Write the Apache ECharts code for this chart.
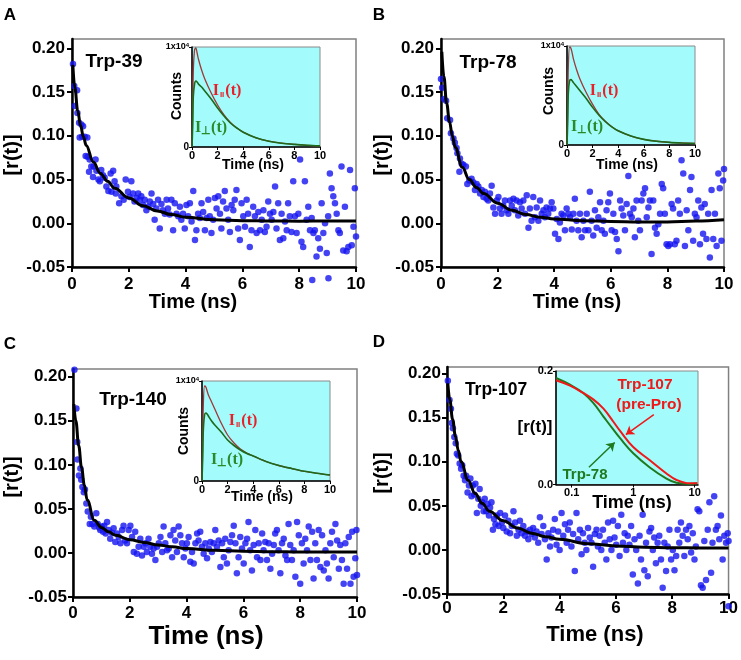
<!DOCTYPE html>
<html><head><meta charset="utf-8">
<script src="https://cdn.jsdelivr.net/npm/echarts@6/dist/echarts.min.js"></script>
<style>html,body{margin:0;padding:0;background:#fff}#c{width:741px;height:660px}</style>
</head><body><div id="c"></div><script>
// ---------- DATA ----------
const mainXTicks = [0, 2, 4, 6, 8, 10];
const mainYTicks = [-0.05, 0, 0.05, 0.10, 0.15, 0.20];
const panelNames = ['Trp-39', 'Trp-78', 'Trp-140', 'Trp-107'];

const scatterA = [[0.035,0.182],[0.08,0.157],[0.10,0.134],[0.18,0.152],[0.19,0.126],[0.25,0.115],[0.27,0.098],[0.33,0.113],[0.36,0.099],[0.39,0.111],[0.45,0.099],[0.48,0.077],[0.54,0.098],[0.55,0.076],[0.60,0.059],[0.62,0.073],[0.68,0.065],[0.74,0.053],[0.76,0.065],[0.83,0.073],[0.86,0.060],[0.93,0.050],[0.98,0.048],[1.03,0.061],[1.09,0.055],[1.15,0.052],[1.21,0.042],[1.28,0.037],[1.36,0.057],[1.39,0.036],[1.45,0.060],[1.50,0.048],[1.54,0.034],[1.56,0.042],[1.66,0.023],[1.74,0.031],[1.82,0.027],[1.89,0.050],[1.97,0.036],[2.03,0.030],[2.09,0.048],[2.15,0.034],[2.20,0.025],[2.27,0.029],[2.33,0.034],[2.39,0.027],[2.44,0.031],[2.50,0.021],[2.56,0.027],[2.62,0.015],[2.68,0.019],[2.74,0.025],[2.80,0.034],[2.86,0.022],[2.91,0.004],[2.97,0.017],[3.03,0.027],[3.09,-0.006],[3.15,0.022],[3.20,0.015],[3.27,0.011],[3.33,0.027],[3.38,0.017],[3.44,0.010],[3.50,0.027],[3.56,-0.008],[3.62,0.023],[3.68,0.011],[3.74,0.008],[3.80,0.019],[3.85,0.004],[3.91,0.011],[3.97,-0.006],[4.03,0.021],[4.09,0.008],[4.15,0.023],[4.21,0.002],[4.27,0.037],[4.33,-0.019],[4.38,-0.008],[4.44,0.011],[4.50,0.006],[4.56,0.023],[4.62,0.013],[4.68,-0.008],[4.74,0.006],[4.80,0.027],[4.85,0.008],[4.91,-0.011],[4.97,0.004],[5.03,0.029],[5.09,0.017],[5.15,0.031],[5.21,0.011],[5.26,-0.006],[5.32,0.025],[5.38,0.037],[5.44,0.017],[5.50,0.004],[5.56,-0.010],[5.62,0.021],[5.68,0.015],[5.73,0.027],[5.79,0.038],[5.85,-0.006],[5.91,-0.019],[5.97,0.023],[6.03,0.008],[6.09,-0.004],[6.15,0.027],[6.20,0.011],[6.26,-0.027],[6.32,-0.008],[6.38,0.019],[6.44,0.008],[6.50,-0.011],[6.56,0.013],[6.62,-0.008],[6.68,0.004],[6.74,0.015],[6.79,-0.010],[6.85,-0.004],[6.91,0.025],[6.97,0.011],[7.03,0.004],[7.09,0.013],[7.15,0.042],[7.20,-0.006],[7.26,0.023],[7.32,-0.019],[7.38,0.011],[7.44,-0.017],[7.50,0.002],[7.56,-0.008],[7.61,0.023],[7.67,0.008],[7.73,-0.010],[7.79,0.048],[7.85,0.008],[7.91,-0.011],[7.97,0.011],[8.03,0.073],[8.08,-0.021],[8.14,-0.027],[8.20,0.048],[8.26,0.004],[8.32,0.019],[8.38,-0.008],[8.44,0.006],[8.46,-0.065],[8.50,-0.011],[8.55,-0.008],[8.61,-0.038],[8.67,-0.017],[8.73,-0.029],[8.79,0.023],[8.85,-0.011],[8.91,0.000],[8.97,-0.034],[9.02,0.008],[9.03,-0.063],[9.08,0.057],[9.14,0.040],[9.20,0.031],[9.26,0.023],[9.32,0.011],[9.38,-0.008],[9.43,-0.011],[9.49,0.065],[9.55,-0.031],[9.61,0.019],[9.67,-0.032],[9.73,-0.027],[9.79,0.061],[9.85,-0.025],[9.91,-0.004],[9.96,0.040],[10.0,-0.015]];

const scatterB = [[0.0,0.165],[0.04,0.155],[0.11,0.142],[0.18,0.140],[0.22,0.120],[0.32,0.118],[0.35,0.103],[0.44,0.097],[0.49,0.092],[0.55,0.086],[0.58,0.080],[0.65,0.059],[0.67,0.074],[0.73,0.068],[0.79,0.067],[0.88,0.065],[0.93,0.045],[1.00,0.049],[1.08,0.051],[1.14,0.047],[1.20,0.038],[1.26,0.045],[1.32,0.042],[1.38,0.034],[1.44,0.038],[1.50,0.030],[1.55,0.036],[1.61,0.028],[1.67,0.026],[1.73,0.034],[1.79,0.043],[1.85,0.018],[1.91,0.011],[1.97,0.026],[2.03,0.030],[2.08,0.017],[2.14,0.011],[2.20,0.020],[2.26,0.026],[2.32,0.015],[2.38,0.011],[2.44,0.026],[2.50,0.020],[2.56,0.028],[2.61,0.015],[2.67,0.026],[2.73,0.009],[2.79,0.024],[2.85,0.017],[2.91,0.026],[2.97,0.011],[3.03,0.032],[3.09,-0.005],[3.14,0.017],[3.20,0.003],[3.26,0.030],[3.32,0.007],[3.38,0.018],[3.44,0.003],[3.50,0.026],[3.56,0.011],[3.62,0.015],[3.67,0.007],[3.73,0.018],[3.79,0.011],[3.85,0.017],[3.91,0.024],[3.97,0.017],[4.03,-0.012],[4.09,0.005],[4.15,-0.018],[4.20,0.001],[4.26,0.011],[4.32,0.009],[4.38,-0.008],[4.44,0.017],[4.50,0.011],[4.56,0.007],[4.62,-0.007],[4.68,0.011],[4.73,0.028],[4.79,0.003],[4.85,-0.008],[4.91,0.011],[4.97,-0.016],[5.03,0.003],[5.09,-0.008],[5.15,0.011],[5.21,-0.008],[5.26,0.036],[5.32,0.003],[5.38,-0.014],[5.44,0.015],[5.50,-0.005],[5.56,0.007],[5.62,0.024],[5.68,-0.008],[5.74,0.003],[5.79,-0.012],[5.85,0.015],[5.91,0.024],[5.97,0.034],[6.03,-0.008],[6.09,0.011],[6.15,-0.010],[6.21,-0.018],[6.27,-0.032],[6.33,0.026],[6.38,0.017],[6.44,0.009],[6.50,-0.008],[6.56,0.022],[6.62,0.054],[6.68,0.011],[6.74,0.007],[6.80,0.017],[6.85,-0.016],[6.91,0.026],[6.97,0.003],[7.03,-0.008],[7.09,0.026],[7.15,0.034],[7.21,0.040],[7.27,0.007],[7.33,0.018],[7.38,0.026],[7.44,-0.035],[7.50,0.026],[7.56,-0.005],[7.62,-0.012],[7.68,-0.001],[7.74,0.011],[7.80,0.045],[7.85,0.040],[7.91,0.011],[7.97,-0.024],[8.03,-0.026],[8.09,-0.024],[8.15,0.022],[8.20,0.017],[8.26,-0.024],[8.32,-0.020],[8.38,0.026],[8.44,0.011],[8.50,0.072],[8.56,0.057],[8.62,-0.026],[8.68,0.015],[8.74,-0.008],[8.80,0.038],[8.85,0.053],[8.91,-0.020],[8.97,0.011],[9.03,0.007],[9.09,0.026],[9.15,-0.024],[9.20,0.018],[9.26,-0.012],[9.32,0.022],[9.38,-0.018],[9.44,0.011],[9.50,-0.039],[9.56,0.038],[9.62,-0.018],[9.68,0.011],[9.74,-0.026],[9.80,0.057],[9.85,0.040],[9.91,-0.020],[9.97,0.049],[10.0,0.062]];

const scatterC = [[0.05,0.208],[0.12,0.164],[0.15,0.126],[0.16,0.106],[0.21,0.088],[0.26,0.096],[0.29,0.083],[0.33,0.075],[0.38,0.069],[0.42,0.072],[0.47,0.056],[0.52,0.047],[0.59,0.033],[0.63,0.041],[0.68,0.033],[0.75,0.030],[0.82,0.045],[0.87,0.033],[0.92,0.029],[0.96,0.026],[1.01,0.030],[1.06,0.024],[1.10,0.031],[1.15,0.022],[1.20,0.035],[1.26,0.026],[1.31,0.016],[1.37,0.023],[1.43,0.028],[1.49,0.0125],[1.55,0.022],[1.61,0.018],[1.67,0.011],[1.73,0.026],[1.78,0.031],[1.84,0.014],[1.90,0.011],[1.96,0.026],[2.02,0.031],[2.08,0.018],[2.14,0.001],[2.19,0.024],[2.25,-0.001],[2.31,0.007],[2.37,0.016],[2.43,-0.003],[2.49,0.007],[2.55,0.011],[2.60,0.001],[2.66,0.016],[2.72,0.007],[2.78,-0.001],[2.84,0.005],[2.90,-0.008],[2.96,0.007],[3.02,0.011],[3.08,0.018],[3.14,0.001],[3.19,0.030],[3.25,0.011],[3.31,0.003],[3.37,0.005],[3.43,0.020],[3.49,-0.005],[3.54,0.026],[3.60,0.014],[3.66,0.001],[3.72,0.030],[3.78,0.020],[3.84,0.011],[3.90,-0.005],[3.96,0.005],[4.01,0.011],[4.07,0.018],[4.13,-0.010],[4.19,0.001],[4.25,-0.012],[4.31,0.011],[4.37,0.022],[4.42,0.014],[4.48,0.024],[4.54,0.007],[4.60,-0.001],[4.66,0.011],[4.72,-0.006],[4.78,0.005],[4.84,0.0125],[4.89,0.001],[4.95,0.011],[5.01,0.026],[5.07,0.007],[5.13,0.014],[5.19,-0.016],[5.25,0.011],[5.31,-0.005],[5.36,0.016],[5.42,-0.012],[5.48,0.003],[5.54,0.0125],[5.60,0.020],[5.66,0.031],[5.72,0.011],[5.77,-0.023],[5.83,-0.005],[5.89,0.018],[5.95,0.005],[6.01,-0.012],[6.07,0.011],[6.13,0.016],[6.18,0.035],[6.24,0.003],[6.30,-0.020],[6.36,0.009],[6.42,0.026],[6.48,-0.005],[6.54,0.011],[6.60,-0.008],[6.66,0.022],[6.71,0.003],[6.77,0.0125],[6.83,-0.008],[6.89,0.011],[6.95,-0.018],[7.01,-0.001],[7.07,0.009],[7.12,0.022],[7.18,0.026],[7.24,0.003],[7.30,-0.023],[7.36,0.011],[7.42,0.016],[7.48,-0.003],[7.54,-0.008],[7.59,0.033],[7.65,0.009],[7.71,-0.008],[7.77,0.003],[7.83,-0.027],[7.89,0.035],[7.95,0.020],[8.00,-0.035],[8.06,0.011],[8.12,-0.012],[8.18,0.016],[8.24,0.003],[8.30,0.030],[8.36,-0.008],[8.42,0.024],[8.47,-0.029],[8.53,0.011],[8.59,-0.008],[8.65,0.026],[8.71,-0.016],[8.77,0.020],[8.83,-0.020],[8.89,0.003],[8.94,-0.012],[9.00,-0.029],[9.06,0.011],[9.12,0.024],[9.18,-0.005],[9.24,0.033],[9.30,0.014],[9.36,-0.018],[9.41,0.009],[9.47,-0.008],[9.53,-0.035],[9.59,0.011],[9.65,-0.018],[9.71,0.018],[9.77,-0.035],[9.83,0.024],[9.88,-0.027],[9.94,-0.006],[9.98,0.026],[10.0,-0.025]];

const scatterD = [[0.03,0.192],[0.09,0.170],[0.14,0.160],[0.17,0.144],[0.21,0.138],[0.26,0.128],[0.31,0.121],[0.35,0.109],[0.40,0.107],[0.45,0.098],[0.50,0.092],[0.54,0.096],[0.59,0.084],[0.64,0.079],[0.68,0.084],[0.73,0.065],[0.78,0.073],[0.83,0.081],[0.87,0.061],[0.92,0.073],[0.97,0.063],[1.01,0.075],[1.06,0.042],[1.11,0.058],[1.16,0.069],[1.20,0.050],[1.25,0.054],[1.30,0.044],[1.34,0.058],[1.39,0.044],[1.44,0.052],[1.49,0.039],[1.53,0.048],[1.58,0.054],[1.63,0.023],[1.67,0.035],[1.72,0.029],[1.77,0.039],[1.83,0.027],[1.89,0.042],[1.95,0.031],[2.00,0.025],[2.06,0.039],[2.12,0.021],[2.18,0.033],[2.24,0.019],[2.30,0.027],[2.36,0.044],[2.42,0.031],[2.48,0.016],[2.54,0.023],[2.59,0.033],[2.65,0.019],[2.71,0.027],[2.77,0.016],[2.83,0.021],[2.89,0.012],[2.95,0.023],[3.00,0.018],[3.06,0.025],[3.12,0.014],[3.18,0.021],[3.24,0.008],[3.30,0.037],[3.36,0.018],[3.42,0.027],[3.48,0.012],[3.54,-0.011],[3.60,0.019],[3.66,0.004],[3.71,0.014],[3.77,0.023],[3.83,0.035],[3.89,0.006],[3.95,0.021],[4.00,0.000],[4.07,0.042],[4.13,0.016],[4.19,0.029],[4.25,0.008],[4.30,0.023],[4.36,0.031],[4.42,0.004],[4.48,0.018],[4.54,-0.024],[4.60,0.042],[4.66,0.012],[4.72,0.023],[4.78,-0.005],[4.83,0.019],[4.89,0.008],[4.95,0.000],[5.01,0.025],[5.07,0.014],[5.13,0.008],[5.19,-0.019],[5.25,0.018],[5.31,0.023],[5.36,0.004],[5.42,0.016],[5.48,0.000],[5.54,0.023],[5.60,0.008],[5.66,-0.011],[5.72,0.031],[5.78,0.012],[5.84,0.000],[5.90,0.033],[5.95,0.014],[6.01,0.006],[6.07,0.027],[6.13,-0.007],[6.19,0.040],[6.25,0.008],[6.31,0.019],[6.37,0.000],[6.42,0.016],[6.48,0.006],[6.54,0.027],[6.60,-0.028],[6.66,0.012],[6.72,0.000],[6.78,-0.038],[6.84,0.016],[6.89,-0.011],[6.95,0.040],[7.01,-0.023],[7.07,0.008],[7.13,-0.030],[7.19,0.021],[7.25,0.025],[7.31,0.000],[7.36,0.014],[7.42,-0.015],[7.48,0.008],[7.54,0.016],[7.60,-0.011],[7.66,-0.043],[7.72,0.008],[7.78,-0.024],[7.84,0.004],[7.90,0.023],[7.96,-0.011],[8.02,0.000],[8.08,-0.023],[8.14,-0.007],[8.19,0.023],[8.25,0.008],[8.31,0.031],[8.37,0.016],[8.43,-0.007],[8.49,0.023],[8.55,0.012],[8.61,0.027],[8.67,-0.003],[8.73,0.019],[8.79,-0.011],[8.84,0.004],[8.90,0.046],[8.96,0.044],[9.02,-0.040],[9.08,-0.043],[9.14,0.010],[9.20,-0.034],[9.26,0.023],[9.32,0.054],[9.38,-0.026],[9.43,0.008],[9.49,0.061],[9.55,0.023],[9.61,0.027],[9.67,0.012],[9.73,0.039],[9.79,-0.011],[9.85,0.016],[9.91,0.008],[9.97,0.019],[10.0,0.010],[10.0,-0.064]];

const fitT  = [0.03, 0.1, 0.2, 0.3, 0.4, 0.5, 0.75, 1, 1.25, 1.5, 2, 2.5, 3, 3.5, 4, 5, 6, 7, 8, 9, 10];
const fitA  = [0.181,0.155,0.129,0.112,0.099,0.089,0.070,0.057,0.048,0.040,0.029,0.020,0.014,0.010,0.007,0.004,0.003,0.0025,0.0024,0.0025,0.0027];
const fitB  = [0.196,0.168,0.137,0.116,0.100,0.087,0.064,0.050,0.041,0.034,0.023,0.015,0.010,0.007,0.005,0.003,0.002,0.0015,0.0015,0.0025,0.004];
const fitC  = [0.169,0.150,0.122,0.097,0.077,0.060,0.037,0.029,0.024,0.020,0.015,0.012,0.009,0.007,0.005,0.003,0.002,0.0015,0.001,0.001,0.001];
const fitD  = [0.189,0.170,0.148,0.129,0.113,0.100,0.079,0.064,0.053,0.044,0.033,0.025,0.019,0.015,0.012,0.007,0.0045,0.003,0.0024,0.0023,0.0023];

// insets A–C: polarized decay counts (x10^4)
const insetT = [0, 0.05, 0.1, 0.2, 0.3, 0.4, 0.5, 0.75, 1, 1.5, 2, 2.5, 3, 3.5, 4, 5, 6, 7, 8, 9, 10];
const parA  = [0,0.30,0.75,0.97,0.99,0.94,0.88,0.77,0.68,0.54,0.42,0.32,0.245,0.19,0.148,0.092,0.058,0.038,0.026,0.017,0.011];
const perpA = [0,0.20,0.50,0.63,0.66,0.65,0.63,0.60,0.56,0.48,0.39,0.31,0.24,0.19,0.148,0.092,0.058,0.038,0.026,0.017,0.011];
const parB  = [0,0.32,0.78,0.99,0.98,0.93,0.87,0.76,0.67,0.53,0.41,0.31,0.24,0.185,0.143,0.090,0.057,0.038,0.027,0.020,0.015];
const perpB = [0,0.22,0.52,0.65,0.66,0.65,0.63,0.59,0.55,0.47,0.38,0.30,0.235,0.183,0.143,0.090,0.057,0.038,0.027,0.020,0.015];
const parC  = [0,0.30,0.75,0.95,0.94,0.90,0.86,0.79,0.72,0.58,0.46,0.38,0.32,0.28,0.25,0.195,0.155,0.125,0.097,0.077,0.060];
const perpC = [0,0.22,0.50,0.66,0.68,0.67,0.65,0.60,0.56,0.49,0.41,0.355,0.31,0.275,0.25,0.195,0.155,0.125,0.097,0.077,0.060];

// inset D: r(t) on log time
const logT   = [0.0556,0.0939,0.154,0.224,0.326,0.473,0.607,1.0,1.86,3.47,5.05,8.2,11.0];
const rTrp78 = [0.1877,0.176,0.1613,0.1437,0.1202,0.097,0.082,0.055,0.030,0.0105,0.003,0.001,0.002];
const rTrp107= [0.1836,0.1741,0.1613,0.150,0.134,0.111,0.095,0.066,0.0428,0.0194,0.008,0.002,0.002];
const logTicks = [0.1, 1, 10];
const arrow107 = [[2.16, 0.123], [0.76, 0.088]];
const arrow78  = [[0.191, 0.0305], [0.5, 0.074]];

// ---------- LAYOUT / STYLE ----------
const FONT = '"Liberation Sans", Arial, Helvetica, sans-serif';
const SERIF = '"Liberation Serif", "Times New Roman", serif';
const mainLayout = [
  {left:72,  top:39,  width:284, height:228, ymax:0.2106, xm:9, ym:7},
  {left:441, top:39,  width:283, height:228, ymax:0.2106, xm:9, ym:7},
  {left:73,  top:369, width:284, height:228, ymax:0.2088, xm:8, ym:6},
  {left:447, top:367, width:282, height:227, ymax:0.2075, xm:6, ym:6}
];
const insetLayout = [
  {left:192, top:47,  width:128, height:100},
  {left:567, top:46,  width:128, height:99},
  {left:202, top:381, width:128, height:100},
  {left:556, top:371, width:142, height:113.5}
];
const scatters = [scatterA, scatterB, scatterC, scatterD];
const fits = [fitA, fitB, fitC, fitD];
const pars = [parA, parB, parC];
const perps = [perpA, perpB, perpC];

const grids = [], xAxes = [], yAxes = [], series = [];
mainLayout.forEach((g, i) => {
  grids.push({left:g.left, top:g.top, width:g.width, height:g.height, show:true,
    borderColor:'#808080', borderWidth:1.5, backgroundColor:'transparent', containLabel:false});
  xAxes.push({gridIndex:i, type:'value', min:0, max:10, interval:2,
    axisLine:{show:true, onZero:false, lineStyle:{color:'#000', width:2.5}},
    axisTick:{show:true, length:5, lineStyle:{color:'#000', width:2}},
    axisLabel:{color:'#000', fontWeight:'bold', fontSize:17, fontFamily:FONT, margin:g.xm},
    splitLine:{show:false}});
  yAxes.push({gridIndex:i, type:'value', min:-0.05, max:g.ymax,
    axisLine:{show:true, onZero:false, lineStyle:{color:'#000', width:2.5}},
    axisTick:{show:true, length:5, customValues:mainYTicks, lineStyle:{color:'#000', width:2}},
    axisLabel:{customValues:mainYTicks, color:'#000', fontWeight:'bold', fontSize:17, fontFamily:FONT, margin:g.ym,
      formatter:v => v.toFixed(2)},
    splitLine:{show:false}});
  series.push({type:'scatter', xAxisIndex:i, yAxisIndex:i, data:scatters[i], symbolSize:6.5,
    itemStyle:{color:'#1414f0'}, clip:false, z:2, silent:true});
  series.push({type:'line', xAxisIndex:i, yAxisIndex:i, data:fitT.map((t,k)=>[t, fits[i][k]]),
    smooth:0.4, smoothMonotone:'x', showSymbol:false, lineStyle:{color:'#000', width:3}, z:3, silent:true});
});

function arrowLine(pair, color) {
  return {silent:true, z:15, symbol:['none','arrow'], symbolSize:8, label:{show:false}, emphasis:{disabled:true},
    lineStyle:{color:color, width:1.5, type:'solid'},
    data:[[{coord:pair[0]}, {coord:pair[1]}]]};
}

insetLayout.forEach((g, j) => {
  const gi = 4 + j;
  grids.push({left:g.left, top:g.top, width:g.width, height:g.height, show:true, z:10,
    backgroundColor:'#a4fbfb', borderColor:'#8a8a8a', borderWidth:1});
  const axLine = {show:true, onZero:false, lineStyle:{color:'#000', width:1.5}};
  const tick = {show:true, length:3, lineStyle:{color:'#000', width:1}};
  if (j < 3) {
    xAxes.push({gridIndex:gi, type:'value', min:0, max:10, interval:2, z:11,
      axisLine:axLine, axisTick:tick, splitLine:{show:false},
      axisLabel:{color:'#000', fontWeight:'bold', fontSize:11, fontFamily:FONT, margin:3}});
    yAxes.push({gridIndex:gi, type:'value', min:0, max:1, interval:1, z:11,
      axisLine:axLine, axisTick:tick, splitLine:{show:false},
      axisLabel:{margin:3, formatter:v => v === 0 ? '{z|0}' : '{a|1x10}{b|4}',
        rich:{z:{fontSize:10, fontWeight:'bold', fontFamily:FONT, color:'#000'},
              a:{fontSize:9, fontWeight:'bold', fontFamily:FONT, color:'#000'},
              b:{fontSize:6, fontWeight:'bold', fontFamily:FONT, color:'#000', verticalAlign:'top'}}}});
    series.push({type:'line', xAxisIndex:gi, yAxisIndex:gi, data:insetT.map((t,k)=>[t, pars[j][k]]),
      smooth:0.3, showSymbol:false, lineStyle:{color:'#a03838', width:1.3}, z:12, silent:true});
    series.push({type:'line', xAxisIndex:gi, yAxisIndex:gi, data:insetT.map((t,k)=>[t, perps[j][k]]),
      smooth:0.3, showSymbol:false, lineStyle:{color:'#1c6a1c', width:1.6}, z:13, silent:true});
  } else {
    xAxes.push({gridIndex:gi, type:'log', logBase:10, min:0.0556, max:11.3, z:11,
      axisLine:axLine, axisTick:Object.assign({customValues:logTicks}, tick), splitLine:{show:false}, minorTick:{show:false},
      axisLabel:{customValues:logTicks, color:'#000', fontWeight:'bold', fontSize:11, fontFamily:FONT, margin:3,
        formatter:v => (v < 1 ? v.toFixed(1) : v.toFixed(0))}});
    yAxes.push({gridIndex:gi, type:'value', min:0, max:0.2, interval:0.2, z:11,
      axisLine:axLine, axisTick:tick, splitLine:{show:false},
      axisLabel:{color:'#000', fontWeight:'bold', fontSize:11, fontFamily:FONT, margin:3, formatter:v => v.toFixed(1)}});
    series.push({type:'line', xAxisIndex:gi, yAxisIndex:gi, data:logT.map((t,k)=>[t, rTrp78[k]]),
      smooth:0.4, showSymbol:false, lineStyle:{color:'#1f7a1f', width:2}, z:12, silent:true,
      markLine:arrowLine(arrow78, '#1f7a1f')});
    series.push({type:'line', xAxisIndex:gi, yAxisIndex:gi, data:logT.map((t,k)=>[t, rTrp107[k]]),
      smooth:0.4, showSymbol:false, lineStyle:{color:'#f01818', width:2}, z:13, silent:true,
      markLine:arrowLine(arrow107, '#f01818')});
  }
});

function txt(text, x, y, size, opts) {
  opts = opts || {};
  return {type:'text', x:x, y:y, rotation:opts.rot || 0, z:30, silent:true,
    style:{text:text, font:'bold ' + size + 'px ' + (opts.family || FONT), fill:opts.color || '#000',
      align:'center', verticalAlign:'middle'}};
}
const R90 = Math.PI / 2;
const redT = '#e8202a', greenT = '#2a8a2a';
const richPar = {i:{font:'bold 16px ' + SERIF, fill:redT}, s:{font:'bold 8px ' + FONT, fill:redT, verticalAlign:'bottom', padding:[6,1,0,1]}, p:{font:'bold 16px ' + SERIF, fill:redT}};
const richPerp = {i:{font:'bold 16px ' + SERIF, fill:greenT}, s:{font:'bold 11px ' + FONT, fill:greenT, verticalAlign:'bottom', padding:[5,0,0,0]}, p:{font:'bold 16px ' + SERIF, fill:greenT}};
function iLab(sub, x, y, rich, color) {
  return {type:'text', x:x, y:y, z:30, silent:true,
    style:{text:'{i|I}{s|' + sub + '}{p|(t)}', rich:rich, fill:color, align:'center', verticalAlign:'middle'}};
}

const graphic = [
  txt('A', 10, 15, 17), txt('B', 379, 15, 17), txt('C', 10, 344, 17), txt('D', 379, 342, 17),
  txt(panelNames[0], 114, 62, 19), txt(panelNames[1], 488, 63, 19), txt(panelNames[2], 133, 400, 19), txt(panelNames[3], 496, 390, 17.5),
  txt('Time (ns)', 193, 302, 20), txt('Time (ns)', 577, 302, 20), txt('Time (ns)', 206, 637, 26), txt('Time (ns)', 595, 635, 22),
  txt('[r(t)]', 12.5, 155, 20, {rot:R90}), txt('[r(t)]', 382, 155, 20, {rot:R90}),
  txt('[r(t)]', 12.5, 477, 20, {rot:R90}), txt('[r(t)]', 382, 473, 20, {rot:R90}),
  txt('Counts', 177, 96, 14, {rot:R90}), txt('Counts', 549, 91, 14, {rot:R90}), txt('Counts', 184, 431, 14, {rot:R90}),
  txt('Time (ns)', 253, 165, 14), txt('Time (ns)', 627, 165, 14), txt('Time (ns)', 262, 497, 14),
  txt('Time (ns)', 632, 503, 18), txt('[r(t)]', 535, 427, 17),
  iLab('II', 227, 91, richPar, redT), iLab('II', 604, 91, richPar, redT), iLab('II', 243, 421, richPar, redT),
  iLab('\u22A5', 211, 128, richPerp, greenT), iLab('\u22A5', 587, 127, richPerp, greenT), iLab('\u22A5', 227, 460, richPerp, greenT),
  txt('Trp-107', 645, 385, 15.5, {color:'#f01818'}), txt('(pre-Pro)', 649, 405, 15.5, {color:'#f01818'}),
  txt('Trp-78', 585, 475, 15, {color:'#1f7a1f'})
];

const chart = echarts.init(document.getElementById('c'), null, {renderer:'canvas'});
chart.setOption({animation:false, backgroundColor:'#fff', grid:grids, xAxis:xAxes, yAxis:yAxes, series:series, graphic:graphic});
</script></body></html>
